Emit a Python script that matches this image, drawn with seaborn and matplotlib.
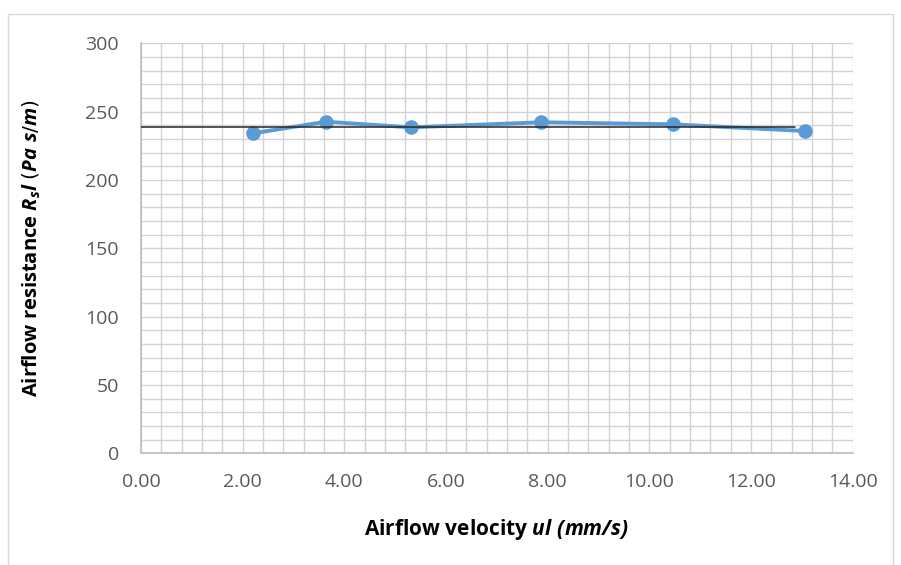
import matplotlib

matplotlib.use("Agg")
import matplotlib.pyplot as plt
import numpy as np
import pandas as pd
import seaborn as sns
from matplotlib.patches import Rectangle

# airflow velocity (mm/s) and measured resistance (Pa s/m)
velocity = [2.20, 3.64, 5.31, 7.87, 10.46, 13.07]
resistance = [234.1, 242.6, 238.5, 242.2, 240.7, 235.8]
# black reference line (mean resistance)
ref_x = [0.0, 12.87]
ref_y = [239.0, 239.0]

x_ticks = [0, 2, 4, 6, 8, 10, 12, 14]
y_ticks = [0, 50, 100, 150, 200, 250, 300]

sns.set_theme(style="white")
plt.rcParams["font.family"] = ["Open Sans", "DejaVu Sans"]
plt.rcParams["mathtext.fontset"] = "custom"
plt.rcParams["mathtext.bfit"] = "Open Sans:italic:bold"
plt.rcParams["mathtext.it"] = "Open Sans:italic:bold"

fig = plt.figure(figsize=(9.01, 5.65), dpi=100)
ax = fig.add_axes([0.1565, 0.1977, 0.7899, 0.7257])

# excel style dense grid
ax.set_xticks(np.arange(0, 14.01, 0.4), minor=True)
ax.set_yticks(np.arange(0, 300.1, 10), minor=True)
ax.grid(True, which="both", color="#D3D3D3", linewidth=1.0)
ax.set_axisbelow(True)

df = pd.DataFrame({"velocity": velocity, "resistance": resistance})
sns.lineplot(data=df, x="velocity", y="resistance", ax=ax, color="#5B9BD5",
             linewidth=2.8, marker="o", markersize=10.5, markeredgewidth=0, zorder=3)
ax.plot(ref_x, ref_y, color="#262626", linewidth=1.1, zorder=4)

ax.set_xlim(0, 14)
ax.set_ylim(0, 300)
ax.set_xticks(x_ticks)
ax.set_xticklabels([f"{v:.2f}" for v in x_ticks])
ax.set_yticks(y_ticks)
ax.tick_params(axis="both", which="both", length=0, labelsize=14, labelcolor="#595959")
ax.tick_params(axis="y", pad=16)
ax.tick_params(axis="x", pad=14)
for side in ax.spines:
    ax.spines[side].set_visible(False)
ax.spines["left"].set_visible(True)
ax.spines["bottom"].set_visible(True)
ax.spines["left"].set_color("#BFBFBF")
ax.spines["bottom"].set_color("#BFBFBF")

ax.set_xlabel(r"Airflow velocity $\mathbfit{ul\ (mm/s)}$", fontsize=15,
              fontweight="bold", color="black", labelpad=19)
ax.set_ylabel(r"Airflow resistance $\mathbfit{R_s l}$ $\mathit{(Pa\ s/m)}$", fontsize=14.5,
              fontweight="bold", color="black", labelpad=30)

# chart outline
fig.patches.append(Rectangle((8 / 901, -0.01), 885 / 901, 1 - 14 / 565 + 0.01,
                             transform=fig.transFigure, fill=False,
                             edgecolor="#D9D9D9", linewidth=1.0))

fig.savefig("out.png", dpi=100)
